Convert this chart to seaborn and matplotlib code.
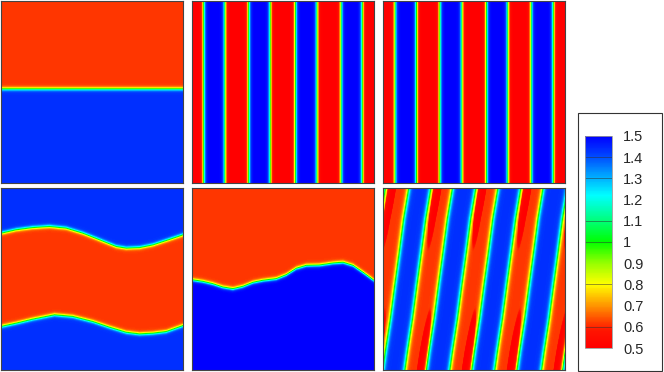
import numpy as np
import seaborn as sns
import matplotlib.pyplot as plt
from matplotlib.colors import LinearSegmentedColormap
from matplotlib.patches import Rectangle

sns.set_style("white")
plt.rcParams['font.family'] = ['Liberation Sans', 'DejaVu Sans']

# colour scale (value -> colour)
cmap_levels = [0.5, 0.58, 0.62, 0.7, 0.8, 0.9, 1.0, 1.1, 1.22, 1.32, 1.42, 1.5]
cmap_colors = ['#ff0000', '#ff1400', '#ff3c00', '#ff9600', '#ffff00', '#96ff00',
               '#00ff00', '#00ff78', '#00ffff', '#00a0ff', '#003cff', '#0000ff']
cbar_ticks = [0.5, 0.6, 0.7, 0.8, 0.9, 1.0, 1.1, 1.2, 1.3, 1.4, 1.5]
cbar_lines = [0.6, 0.8, 1.0, 1.1, 1.3, 1.4]

# phase values (red phase / blue phase) and interface width for each panel
panel_low = [0.615, 0.5, 0.5, 0.615, 0.615, 0.615]
panel_high = [1.435, 1.5, 1.5, 1.435, 1.5, 1.435]
panel_eps = [0.011, 0.011, 0.011, 0.011, 0.011, 0.014]

# panel 1: flat interface, fraction from top
p1_level = 0.483

# panels 2 and 3: vertical stripe edges (red -> blue, blue -> red, ...)
p2_edges = [0.064, 0.181, 0.311, 0.430, 0.568, 0.687, 0.819, 0.936]
p3_edges = [0.066, 0.184, 0.312, 0.434, 0.568, 0.686, 0.814, 0.936]

# panel 4: red band between two wavy interfaces
p4_x_up = [0, 0.083, 0.174, 0.266, 0.358, 0.45, 0.541, 0.633, 0.688, 0.761, 0.835, 0.908, 1.0]
p4_upper = [0.248, 0.229, 0.217, 0.211, 0.220, 0.248, 0.284, 0.321, 0.330, 0.327, 0.312, 0.288, 0.257]
p4_x_lo = [0, 0.083, 0.174, 0.294, 0.394, 0.505, 0.596, 0.688, 0.761, 0.835, 0.908, 1.0]
p4_lower = [0.761, 0.743, 0.721, 0.697, 0.706, 0.734, 0.765, 0.793, 0.802, 0.798, 0.789, 0.756]

# panel 5: single wavy interface
p5_x = [0, 0.060, 0.115, 0.170, 0.225, 0.280, 0.335, 0.390, 0.463, 0.518, 0.573,
        0.628, 0.701, 0.775, 0.830, 0.885, 0.940, 1.0]
p5_y = [0.505, 0.514, 0.527, 0.545, 0.554, 0.541, 0.519, 0.508, 0.499, 0.477, 0.442,
        0.426, 0.424, 0.413, 0.409, 0.426, 0.464, 0.508]

# panel 6: slanted stripes, edges at the bottom and sideways shift with height
p6_edges = [-0.13, -0.001, 0.12, 0.239, 0.367, 0.489, 0.614, 0.737, 0.871, 0.987]
p6_h = [0, 0.1, 0.283, 0.466, 0.649, 0.832, 1.0]
p6_shift = [0, 0.014, 0.042, 0.066, 0.091, 0.115, 0.143]
# darker red pockets inside the red stripes
p6_blob_offset = [0.036, 0.09]
p6_blob_h = [1.0, 0.0]
p6_blob_rx = [0.023, 0.024]
p6_blob_rh = [0.32, 0.32]

n = 182
xs = (np.arange(n) + 0.5) / n
X, Y = np.meshgrid(xs, xs)  # Y measured from top
H = 1 - Y


def phase(d, eps):
    return 0.5 * (1 + np.tanh(d / eps))


def stripes(x, edges, first_high):
    edges = np.asarray(edges)
    k = np.searchsorted(edges, x)
    high = (k % 2 == 0) == first_high
    dist = np.min(np.abs(x[..., None] - edges), axis=-1)
    return np.where(high, dist, -dist)


dists = []
dists.append(Y - p1_level)
dists.append(stripes(X, p2_edges, False))
dists.append(stripes(X, p3_edges, False))
yu = np.interp(X, p4_x_up, p4_upper)
yl = np.interp(X, p4_x_lo, p4_lower)
dists.append(np.maximum(yu - Y, Y - yl))
dists.append(Y - np.interp(X, p5_x, p5_y))
xp = X - np.interp(H, p6_h, p6_shift)
dists.append(stripes(xp, p6_edges, True))

fields = []
for i, d in enumerate(dists):
    ph = phase(d, panel_eps[i])
    fields.append(panel_low[i] + (panel_high[i] - panel_low[i]) * ph)

# dark pockets in panel 6
b2r = np.asarray(p6_edges[0::2])
idx = np.clip(np.searchsorted(b2r, xp) - 1, 0, None)
xi = xp - b2r[idx]
m = np.zeros_like(X)
for off, hc, rx, rh in zip(p6_blob_offset, p6_blob_h, p6_blob_rx, p6_blob_rh):
    r2 = ((xi - off) / rx) ** 2 + ((H - hc) / rh) ** 2
    m = np.maximum(m, 0.5 * (1 + np.tanh((1 - r2) / 0.12)))
fields[5] = fields[5] - (panel_low[5] - 0.5) * m * (1 - phase(dists[5], panel_eps[5]))

cmap = LinearSegmentedColormap.from_list(
    'tec', [((v - 0.5) / 1.0, c) for v, c in zip(cmap_levels, cmap_colors)])

W, Hpx = 664, 372
fig = plt.figure(figsize=(W / 100, Hpx / 100), dpi=100)

col_left = [1, 192, 383]
row_top = [1, 188]
size = 182

cax = fig.add_axes([585 / W, 1 - 348 / Hpx, 27 / W, 212 / Hpx])

for i, field in enumerate(fields):
    r, c = divmod(i, 3)
    ax = fig.add_axes([col_left[c] / W, 1 - (row_top[r] + size) / Hpx, size / W, size / Hpx])
    sns.heatmap(field, ax=ax, cmap=cmap, vmin=0.5, vmax=1.5,
                cbar=(i == 0), cbar_ax=cax if i == 0 else None,
                xticklabels=False, yticklabels=False, rasterized=True)
    for s in ax.spines.values():
        s.set_visible(True)
        s.set_color('#444444')
        s.set_linewidth(0.8)
    if i == 0:
        cbar = ax.collections[0].colorbar

cbar.set_ticks(cbar_ticks)
cbar.set_ticklabels([f"{t:g}" for t in cbar_ticks])
cax.tick_params(length=0, pad=8, labelsize=10.5)
cbar.outline.set_visible(True)
cbar.outline.set_edgecolor('#999999')
cbar.outline.set_linewidth(0.6)
for v in cbar_lines:
    cax.axhline(v, color='#333333', lw=0.6, alpha=0.6)

fig.add_artist(Rectangle((578 / W, 1 - 371 / Hpx), 84 / W, 258 / Hpx,
                         transform=fig.transFigure, fill=False,
                         ec='#333333', lw=0.8))

plt.savefig('out.png', dpi=100)
